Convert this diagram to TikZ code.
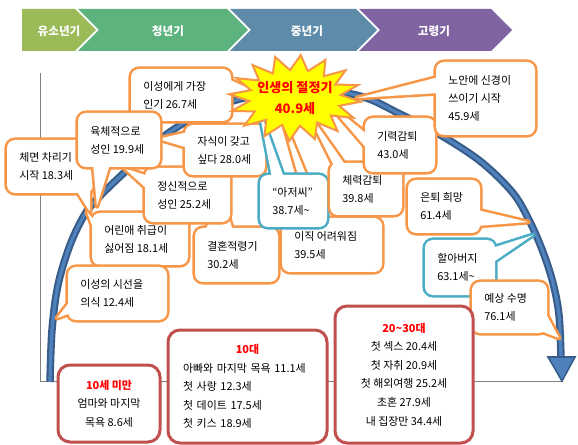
\documentclass[tikz,border=0pt]{standalone}
\usepackage{fontspec}
\setmainfont{Noto Sans CJK KR}
\usetikzlibrary{fit,calc}
\definecolor{orng}{HTML}{F79646}
\definecolor{teal2}{HTML}{4BACC6}
\definecolor{dred}{HTML}{C0504D}
\definecolor{arcdark}{HTML}{385D8A}
\definecolor{arclight}{HTML}{4F81BD}
\definecolor{g1}{HTML}{9BBB59}
\definecolor{g2}{HTML}{5CB37E}
\definecolor{g3}{HTML}{5E8BA9}
\definecolor{g4}{HTML}{8064A2}
\definecolor{axisgray}{HTML}{808080}
\definecolor{staryel}{HTML}{FFFF00}
\tikzset{
  ctext/.style={font=\fontsize{8.2}{13.5}\selectfont, align=left, inner sep=0pt, text=black},
  bbox/.style={draw=dred, fill=white, line width=2.25pt, rounded corners=9pt, inner sep=0pt, outer sep=0pt},
  btext/.style={font=\fontsize{8.2}{13.9}\selectfont, inner sep=0pt, text=black},
  hdr/.style={text=white, font=\fontsize{8.7}{10}\selectfont\bfseries, inner sep=0pt},
}
% callout: name, colour, x1, y1, x2, y2, pointer path, text
\newcommand\mkcall[8]{%
  \coordinate (#1-a) at (#3,#4);
  \coordinate (#1-b) at (#5,#6);
  \node[fit=(#1-a)(#1-b), inner sep=0pt, outer sep=0pt, draw=#2, line width=3.8pt, rounded corners=6pt] (#1) {};
  \draw[#2, line width=3.8pt, line join=round] #7 -- cycle;
  \fill[white, rounded corners=6pt] (#1.north west) rectangle (#1.south east);
  \fill[white] #7 -- cycle;
  \node[ctext, anchor=west] (#1-t) at ([xshift=9pt]#1.west) {#8};
}
\begin{document}
\begin{tikzpicture}[x=0.75pt,y=-0.75pt]
\useasboundingbox (0,0) rectangle (578,445);
\fill[white] (0,0) rectangle (578,445);
% header chevrons
\fill[g1] (22,9) -- (75,9) -- (96,30) -- (75,51) -- (22,51) -- cycle;
\fill[g2] (78,9) -- (227,9) -- (248,30) -- (227,51) -- (78,51) -- (99,30) -- cycle;
\fill[g3] (230,9) -- (356,9) -- (377,30) -- (356,51) -- (230,51) -- (251,30) -- cycle;
\fill[g4] (359,9) -- (491,9) -- (512,30) -- (491,51) -- (359,51) -- (380,30) -- cycle;
\node[hdr] (h1) at (59,31) {유소년기};
\node[hdr] (h2) at (168,31) {청년기};
\node[hdr] (h3) at (307,31) {중년기};
\node[hdr] (h4) at (434,31) {고령기};
% axes
\coordinate (ytop) at (40,73);
\coordinate (orig) at (40,381);
\coordinate (xend) at (563,381);
\draw[axisgray, line width=0.75pt] (ytop) -- (orig) -- (xend);
% life arc
\draw[draw=arcdark, line width=1.6pt, double=arclight, double distance=2.4pt]
  plot[smooth, tension=0.55] coordinates {(50,382) (52,330) (58,285) (70,245) (85,214) (100,196) (127,170) (163,137) (200,114) (240,99) (300,88) (360,96) (400,114) (437,133) (480,161) (513,193) (530,222) (543,252) (553,283) (559,315) (561,358)};
\filldraw[fill=arclight, draw=arcdark, line width=1.2pt, line join=miter] (548,357) -- (575,357) -- (562,381) -- cycle;
% callouts (back to front)
\mkcall{ijik}{orng}{282}{218}{382}{272}{(311,221)--(279,108)--(325,221)}{이직 어려워짐\\39.5세}
\mkcall{gyeol}{orng}{195}{228}{278}{282}{(205,231)--(222,195)--(233,231)}{결혼적령기\\30.2세}
\mkcall{chemyeon}{orng}{7}{140}{93}{193}{(76,190)--(90,212)--(90,190)}{체면 차리기\\시작 18.3세}
\mkcall{iseong}{orng}{131}{69}{231}{121}{(228,79)--(252,90)--(228,96)}{이성에게 가장\\인기 26.7세}
\mkcall{eorin}{orng}{92}{213}{188}{265}{(95,221)--(87,212)--(95,233)}{어린애 취급이\\싫어짐 18.1세}
\mkcall{jeongsin}{orng}{145}{168}{230}{222}{(148,176)--(124,168)--(148,190)}{정신적으로\\성인 25.2세}
\mkcall{jasik}{orng}{185}{125}{265}{175}{(188,132)--(158,139)--(188,148)}{자식이 갖고\\싶다 28.0세}
\mkcall{yukche}{orng}{78}{113}{160}{167}{(93,164)--(97,206)--(110,164)}{육체적으로\\성인 19.9세}
\mkcall{siseon}{orng}{68}{267}{167}{320}{(71,300)--(57,318)--(71,313)}{이성의 시선을\\의식 12.4세}
\mkcall{ajeossi}{teal2}{260}{175}{327}{227}{(272,178)--(258,105)--(284,178)}{“아저씨”\\38.7세\textasciitilde}
\mkcall{cheryeok}{orng}{330}{163}{402}{215}{(334,166)--(305,108)--(346,166)}{체력감퇴\\39.8세}
\mkcall{giryeok}{orng}{365}{118}{435}{172}{(368,135)--(325,100)--(368,150)}{기력감퇴\\43.0세}
\mkcall{noan}{orng}{436}{62}{535}{135}{(439,77)--(357,98)--(439,93)}{노안에 신경이\\쓰이기 시작\\45.9세}
\mkcall{euntoe}{orng}{408}{180}{480}{233}{(477,210)--(528,222)--(477,226)}{은퇴 희망\\61.4세}
\mkcall{harabeoji}{teal2}{425}{240}{495}{295}{(492,248)--(533,235)--(492,263)}{할아버지\\63.1세\textasciitilde}
\mkcall{yesang}{orng}{472}{282}{547}{333}{(544,310)--(559,338)--(538,330)}{예상 수명\\76.1세}
% peak star
\coordinate (pk) at (295,98);
\filldraw[fill=staryel, draw=orng, line width=1.5pt, line join=miter]
  plot[variable=\k, samples at={0,...,31}] ({295+(isodd(\k)?46:66)*cos(\k*11.25+5)}, {98+(isodd(\k)?28:43)*sin(\k*11.25+5)}) -- cycle;
\node[text=red, font=\fontsize{9.8}{15.75}\selectfont\bfseries, align=center, inner sep=0pt] (peak) at (pk) {인생의 절정기\\40.9세};
% bottom boxes
\coordinate (u10a) at (58,365); \coordinate (u10b) at (160,442);
\node[bbox, fit=(u10a)(u10b)] (u10) {};
\node[btext, align=center] (u10t) at (u10.center) {\textcolor{red}{\bfseries 10세 미만}\\엄마와 마지막\\목욕 8.6세};
\coordinate (teena) at (168,330); \coordinate (teenb) at (327,443);
\node[bbox, fit=(teena)(teenb)] (teen) {};
\node[btext, align=left, text width=96.75pt] (teent) at (teen.center) {\makebox[\linewidth][c]{\textcolor{red}{\bfseries 10대}}\\아빠와 마지막 목욕 11.1세\\첫 사랑 12.3세\\첫 데이트 17.5세\\첫 키스 18.9세};
\coordinate (adulta) at (335,306); \coordinate (adultb) at (473,443);
\node[bbox, fit=(adulta)(adultb)] (adult) {};
\node[btext, align=center] (adultt) at (adult.center) {\textcolor{red}{\bfseries 20\textasciitilde30대}\\첫 섹스 20.4세\\첫 자취 20.9세\\첫 해외여행 25.2세\\초혼 27.9세\\내 집장만 34.4세};
\end{tikzpicture}
\end{document}
